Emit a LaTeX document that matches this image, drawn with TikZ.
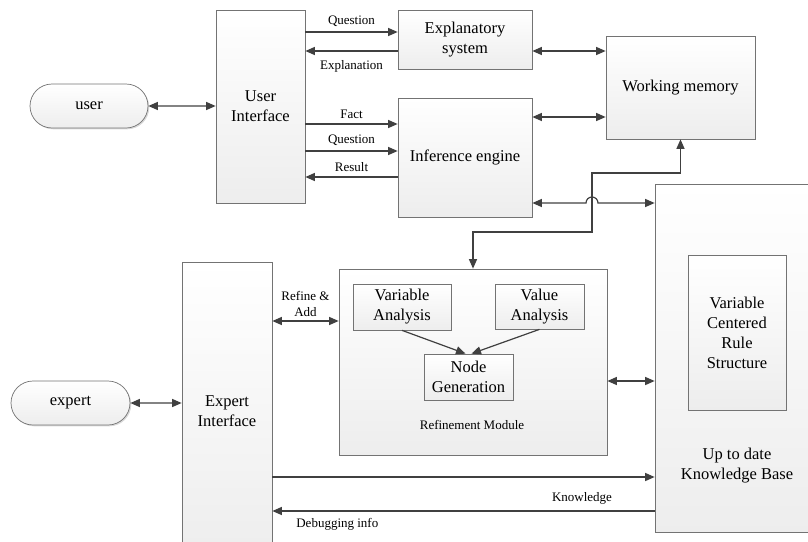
\documentclass[tikz,border=0pt]{standalone}
\usepackage{fontspec}
\setmainfont{Liberation Serif}
\newfontfamily\diagfont{Liberation Serif}
\usetikzlibrary{positioning,arrows.meta,shadows,shapes.misc}

\begin{document}
\begin{tikzpicture}[x=1pt,y=-1pt,
    >={Triangle[length=9.5pt,width=8pt]},
    block/.style={draw=black!55, line width=0.7pt, top color=white, bottom color=black!7,
      drop shadow={shadow xshift=1.3pt,shadow yshift=-1.3pt,opacity=0.3},
      align=center, inner sep=0pt, font=\diagfont\fontsize{16.5}{20}\selectfont},
    pill/.style={block, rounded rectangle},
    lbl/.style={font=\diagfont\fontsize{13}{16}\selectfont, inner sep=1pt, align=center},
    conn/.style={draw=black!75, line width=1.2pt}]
      \useasboundingbox (0,0) rectangle (808,541);
      \clip (0,0) rectangle (808,541);

      % Define the nodes of the user part
      \node[pill, minimum width=118pt, minimum height=44pt] (user) at (89,106) {user};
      \node[block, minimum width=89pt, minimum height=193pt] (UI) at (260.5,106.5) {User\\Interface};
      \node[block, minimum width=134pt, minimum height=59pt] (ES) at (465,39.5) {Explanatory\\system};
      \node[block, minimum width=134pt, minimum height=119pt] (IE) at (465,157.5) {Inference engine};
      \node[block, minimum width=149pt, minimum height=103pt] (WM) at (680.5,87.5) {Working memory};

      % Define the knowledge base and the refinement module
      \node[block, minimum width=164pt, minimum height=348pt] (KB) at (737,358) {};
      \node[font=\diagfont\fontsize{16.5}{20}\selectfont, align=center] (kbtext) at (737,466) {Up to date\\Knowledge Base};
      \node[block, minimum width=98pt, minimum height=155pt] (VCRS) at (737,332.5) {Variable\\Centered\\Rule\\Structure};
      \node[block, minimum width=268pt, minimum height=186pt] (RM) at (473,362) {};
      \node[lbl] (rmtext) at (472,425) {Refinement Module};
      \node[block, minimum width=98pt, minimum height=46pt] (VarA) at (402,307) {Variable\\Analysis};
      \node[block, minimum width=89pt, minimum height=45pt] (ValA) at (539.5,306.5) {Value\\Analysis};
      \node[block, minimum width=89pt, minimum height=46pt] (NG) at (468.5,377) {Node\\Generation};

      % Define the nodes of the expert part
      \node[pill, minimum width=119pt, minimum height=44pt] (expert) at (70.5,403) {expert};
      \node[block, minimum width=90pt, minimum height=298pt] (EI) at (227,411) {Expert\\Interface};

      \coordinate (hop) at (592,203);

      % Draw the arrows of the user part
      \draw[conn,<->] (user) -- (UI.west |- user);
      \draw[conn,->] (UI.east |- 0,32) -- node[lbl,above=4pt] {Question} (ES.west |- 0,32);
      \draw[conn,<-] (UI.east |- 0,51) -- node[lbl,below=8pt] {Explanation} (ES.west |- 0,51);
      \draw[conn,->] (UI.east |- 0,124) -- node[lbl,above=4pt] {Fact} (IE.west |- 0,124);
      \draw[conn,->] (UI.east |- 0,151) -- node[lbl,above=4pt] {Question} (IE.west |- 0,151);
      \draw[conn,<-] (UI.east |- 0,177) -- node[lbl,above=4pt] {Result} (IE.west |- 0,177);
      \draw[conn,<->] (ES.east |- 0,51) -- (WM.west |- 0,51);
      \draw[conn,<->] (IE.east |- 0,117) -- (WM.west |- 0,117);

      % Draw the arrows between memory, engine, refinement and knowledge base
      \draw[conn,<->] (IE.east |- hop) -- ([xshift=-6pt]hop) arc[start angle=180,end angle=360,radius=6] -- (KB.west |- hop);
      \draw[conn,<->] (RM.north) -- (RM.north |- 0,232) -- (592,232) -- (592,173) -- (WM.south |- 0,173) -- (WM.south);
      \draw[conn,<->] (RM.east |- 0,381) -- (KB.west |- 0,381);
      \draw[conn,->] (VarA.south) -- ([xshift=-3pt]NG.north);
      \draw[conn,->] (ValA.south) -- ([xshift=3pt]NG.north);

      % Draw the arrows of the expert part
      \draw[conn,<->] (expert) -- (EI.west |- expert);
      \draw[conn,<->] (EI.east |- 0,321) -- node[lbl,above=3pt] {Refine \&\\Add} (RM.west |- 0,321);
      \draw[conn,->] (EI.east |- 0,477) -- (KB.west |- 0,477);
      \draw[conn,->] (KB.west |- 0,511) -- node[lbl,above=5pt,pos=0.19] {Knowledge}
          node[lbl,below=6pt,pos=0.83] {Debugging info} (EI.east |- 0,511);
\end{tikzpicture}
\end{document}
